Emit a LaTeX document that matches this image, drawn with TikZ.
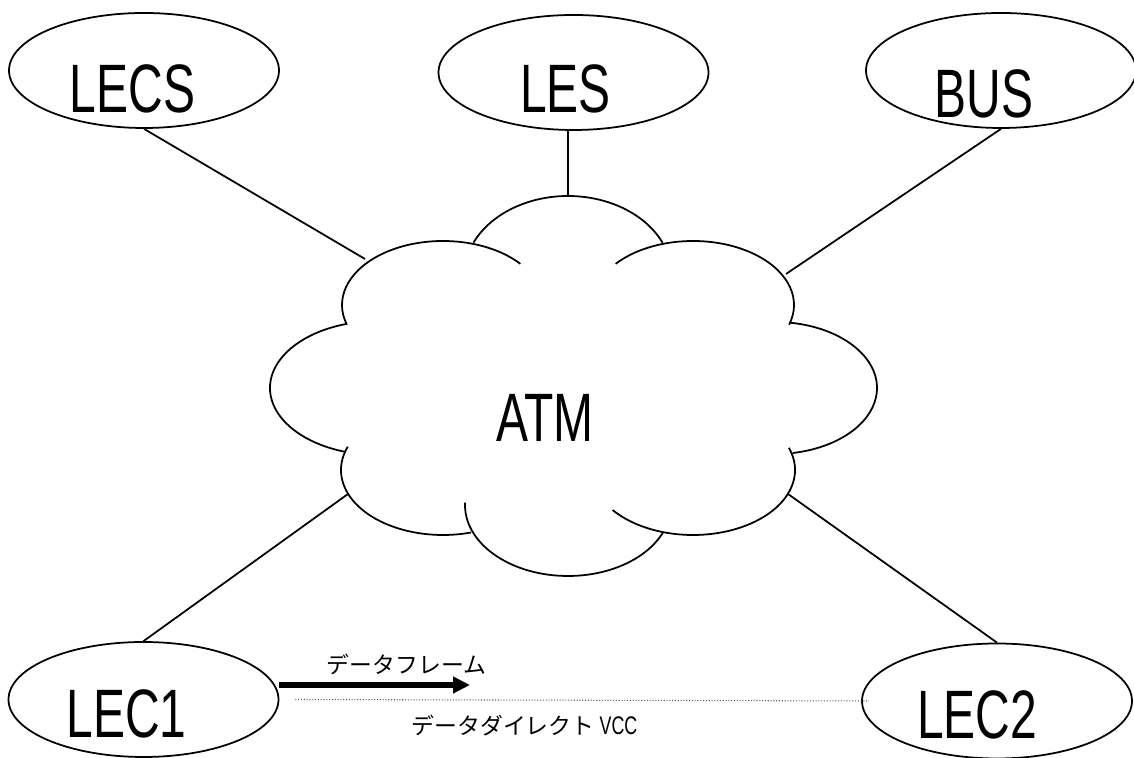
\documentclass[tikz,border=0pt]{standalone}
\usepackage{fontspec}
\usepackage{tikz}
\usetikzlibrary{arrows.meta,shapes.geometric,positioning}
\newfontfamily\narrowfont[FakeStretch=0.7]{Liberation Sans}
\newfontfamily\jpfont{Noto Sans CJK JP}

\begin{document}
\begin{tikzpicture}[
  every node/.style={inner sep=0pt},
  unit/.style={draw, ellipse, line width=1pt, minimum width=5.4cm, minimum height=2.3cm},
  unitname/.style={font=\narrowfont\fontsize{39}{39}\selectfont},
  jplabel/.style={font=\jpfont\fontsize{13}{13}\selectfont},
  link/.style={line width=1pt},
  lobe/.style={line width=1pt},
  flow/.style={line width=3.4pt, -{Triangle[length=0.34cm,width=0.32cm]}},
  vcc/.style={densely dotted, gray!70!black, line width=0.6pt},
]
\useasboundingbox (0,0) rectangle (22.68,15.16);

% servers
\node[unit] (lecs) at (2.88,13.75) {};
\node[unitname] (lecs-t) at (2.65,13.39) {LECS};
\node[unit] (les) at (11.47,13.71) {};
\node[unitname] (les-t) at (11.31,13.39) {LES};
\node[unit] (bus) at (20.02,13.75) {};
\node[unitname] (bus-t) at (19.68,13.28) {BUS};

% clients
\node[unit] (lec1) at (2.87,1.17) {};
\node[unitname] (lec1-t) at (2.53,0.89) {LEC1};
\node[unit] (lec2) at (19.94,1.14) {};
\node[unitname] (lec2-t) at (19.54,0.86) {LEC2};

% ATM cloud
\foreach \cx/\cy/\rx/\ry/\a/\b in {
  11.36/9.64/2.08/1.60/24.5/155.3,
  8.86/9.06/2.02/1.28/40/198,
  7.56/7.40/2.16/1.34/107/252,
  8.86/5.76/2.04/1.30/159/286,
  11.36/5.06/2.06/1.42/178/337,
  13.86/5.76/2.04/1.30/20/-142,
  15.50/7.40/2.04/1.32/82/-80,
  13.86/9.06/2.02/1.28/140/-18}
  \draw[lobe] (\cx,\cy) ++(\a:\rx cm and \ry cm)
    arc[start angle=\a, end angle=\b, x radius=\rx cm, y radius=\ry cm];
\node[unitname] (atm) at (10.9,6.8) {ATM};

\coordinate (c-lecs) at (7.3,9.98);
\coordinate (c-les) at (11.36,11.22);
\coordinate (c-bus) at (15.72,9.68);
\coordinate (c-lec1) at (6.96,5.28);
\coordinate (c-lec2) at (15.76,5.28);

\draw[link] (lecs.south) -- (c-lecs);
\draw[link] (les.south -| c-les) -- (c-les);
\draw[link] (bus.south) -- (c-bus);
\draw[link] (lec1.north) -- (c-lec1);
\draw[link] (lec2.north) -- (c-lec2);

% data direct VCC
\coordinate (fh) at (9.4,1.46);
\draw[flow] (lec1.east |- fh) -- (fh);
\node[jplabel] (frame) at (8.13,1.88) {データフレーム};
\draw[vcc] ([xshift=0.32cm]lec1.east) -- ([xshift=0.16cm]lec2.west);
\node[jplabel] (direct) at (10.49,0.65) {データダイレクト {\narrowfont\fontsize{14.5}{14.5}\selectfont VCC}};

\end{tikzpicture}
\end{document}
